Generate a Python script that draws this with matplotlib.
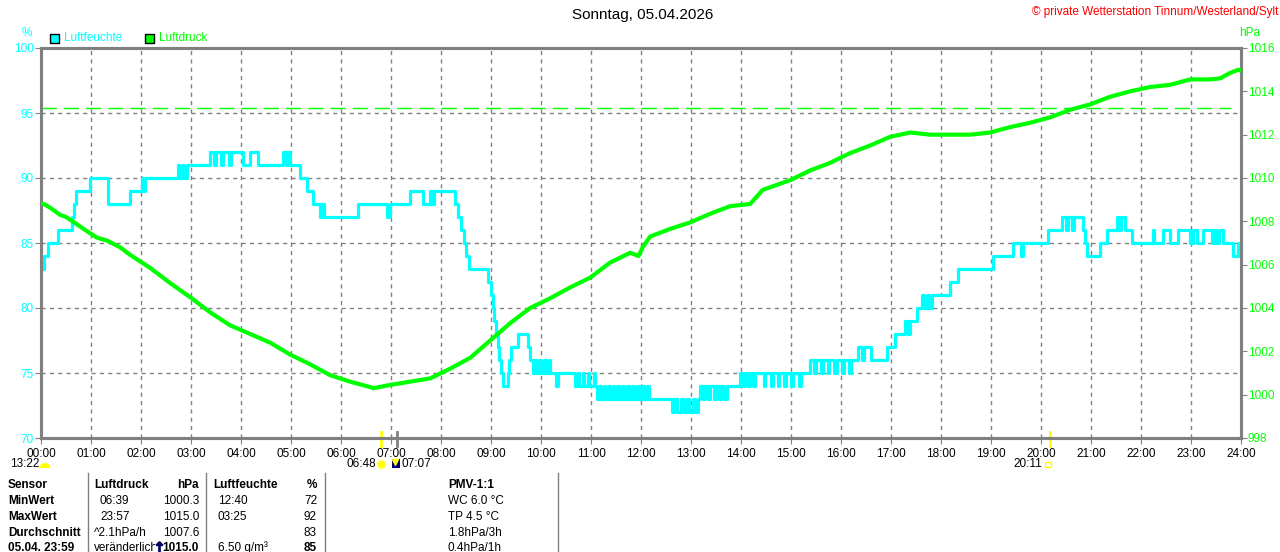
import numpy as np
import matplotlib
matplotlib.use("Agg")
import matplotlib.pyplot as plt
from matplotlib.lines import Line2D
from matplotlib.patches import Rectangle, Polygon
import matplotlib.transforms as mtransforms

plt.rcParams['font.family'] = ['Liberation Sans', 'DejaVu Sans']

# humidity (%), step values: minute of day -> value
hum_min = [0, 4, 8, 20, 37, 40, 42, 59, 80, 107, 121, 123, 125, 164, 166, 169, 172, 175,
           203, 208, 210, 216, 218, 226, 228, 242, 251, 260, 290, 294, 296, 299, 311, 319,
           326, 335, 337, 339, 380, 415, 419, 443, 458, 467, 469, 472, 497, 500, 504, 508,
           510, 514, 536, 540, 542, 544, 546, 548, 550, 552, 554, 560, 562, 564, 572, 584,
           587, 590, 592, 594, 598, 600, 604, 606, 609, 611, 618, 620, 641, 644, 646, 650,
           652, 656, 658, 663, 665, 667, 669, 672, 675, 677, 680, 683, 686, 688, 691, 694,
           697, 700, 703, 706, 709, 712, 715, 718, 721, 724, 727, 730, 757, 760, 763, 768,
           771, 775, 778, 782, 785, 788, 791, 794, 797, 800, 803, 807, 810, 813, 816, 819,
           823, 839, 842, 845, 848, 851, 854, 857, 867, 869, 876, 878, 884, 886, 892, 894,
           900, 902, 910, 912, 923, 928, 930, 936, 938, 944, 946, 952, 955, 961, 963, 970,
           972, 980, 985, 987, 996, 1004, 1015, 1025, 1037, 1040, 1043, 1051, 1057, 1060,
           1063, 1066, 1069, 1091, 1100, 1142, 1166, 1176, 1179, 1208, 1225, 1230, 1232,
           1237, 1239, 1250, 1253, 1255, 1271, 1279, 1291, 1294, 1296, 1301, 1309, 1334,
           1336, 1346, 1355, 1364, 1379, 1382, 1387, 1394, 1405, 1407, 1410, 1413, 1418,
           1430, 1436, 1440]
hum_val = [83, 84, 85, 86, 87, 88, 89, 90, 88, 89, 90, 89, 90, 91, 90, 91, 90, 91,
           92, 91, 92, 91, 92, 91, 92, 91, 92, 91, 92, 91, 92, 91, 90, 89,
           88, 87, 88, 87, 88, 87, 88, 89, 88, 89, 88, 89, 88, 87, 86, 85,
           84, 83, 82, 81, 80, 79, 78, 77, 76, 75, 74, 75, 76, 77, 78, 77,
           76, 75, 76, 75, 76, 75, 76, 75, 76, 75, 74, 75, 74, 75, 74, 75,
           74, 75, 74, 75, 74, 73, 74, 73, 74, 73, 74, 73, 74, 73, 74, 73,
           74, 73, 74, 73, 74, 73, 74, 73, 74, 73, 74, 73, 72, 73, 72, 73,
           72, 73, 72, 73, 72, 73, 74, 73, 74, 73, 74, 73, 74, 73, 74, 73,
           74, 75, 74, 75, 74, 75, 74, 75, 74, 75, 74, 75, 74, 75, 74, 75,
           74, 75, 74, 75, 76, 75, 76, 75, 76, 75, 76, 75, 76, 75, 76, 75,
           76, 77, 76, 77, 76, 76, 77, 78, 79, 78, 79, 80, 81, 80,
           81, 80, 81, 82, 83, 84, 85, 84, 85, 86, 87, 86, 87,
           86, 87, 86, 85, 84, 85, 86, 87, 86, 87, 86, 85, 86,
           85, 86, 85, 86, 85, 86, 85, 86, 85, 86, 85, 86, 85,
           84, 85, 85]

# air pressure (hPa): minute of day -> value
pres_min = [0, 6, 12, 23, 30, 38, 53, 67, 80, 95, 107, 131, 155, 179, 203, 227, 251, 275,
            299, 323, 347, 371, 395, 399, 419, 443, 467, 491, 515, 539, 563, 587, 611, 635,
            659, 683, 707, 717, 722, 731, 755, 779, 803, 827, 851, 866, 899, 923, 947,
            971, 995, 1019, 1043, 1067, 1091, 1115, 1139, 1163, 1187, 1211, 1235, 1259,
            1283, 1307, 1331, 1355, 1379, 1403, 1415, 1427, 1437, 1440]
pres_val = [1008.85, 1008.75, 1008.6, 1008.3, 1008.2, 1008.0, 1007.6, 1007.25, 1007.1,
            1006.8, 1006.45, 1005.85, 1005.15, 1004.5, 1003.8, 1003.2, 1002.8, 1002.4,
            1001.85, 1001.4, 1000.9, 1000.6, 1000.35, 1000.3, 1000.45, 1000.6, 1000.75,
            1001.2, 1001.7, 1002.5, 1003.3, 1004.0, 1004.45, 1004.95, 1005.4, 1006.1,
            1006.55, 1006.4, 1006.8, 1007.3, 1007.65, 1007.95, 1008.35, 1008.7, 1008.8,
            1009.45, 1009.9, 1010.35, 1010.7, 1011.15, 1011.5, 1011.9, 1012.1, 1012.0,
            1012.0, 1012.0, 1012.1, 1012.35, 1012.55, 1012.8, 1013.15, 1013.4, 1013.75,
            1014.0, 1014.2, 1014.3, 1014.55, 1014.55, 1014.6, 1014.85, 1015.0, 1014.95]

hour_labels = ["%02d:00" % h for h in range(25)]
hum_ticks = [70, 75, 80, 85, 90, 95, 100]
pres_ticks = [998, 1000, 1002, 1004, 1006, 1008, 1010, 1012, 1014, 1016]
ref_pressure = 1013.25
sunrise, sunset, moonrise, moonset = 6 + 48 / 60, 20 + 11 / 60, 7 + 7 / 60, 13 + 22 / 60

CYAN = "#00ffff"
GREEN = "#00ff00"
GRAY = "#808080"
YEL = "#ffff00"
FS = 8.5

W, H = 1280, 552
def fx(p): return p / W
def fy(p): return 1 - p / H

fig = plt.figure(figsize=(12.8, 5.52), dpi=100)
ax = fig.add_axes([fx(41), fy(438), 1200 / W, 390 / H])
ax2 = ax.twinx()

hx = np.array(hum_min) / 60.0
px = np.array(pres_min) / 60.0
ax.plot(hx, hum_val, drawstyle="steps-post", color=CYAN, lw=2.3, zorder=3)
ax2.plot(px, pres_val, color=GREEN, lw=3.0, zorder=3)
ax2.plot([0, 23.8], [ref_pressure, ref_pressure], color=GREEN, lw=1, dashes=(11, 5))

ax.set_xlim(0, 24)
ax.set_ylim(70, 100)
ax2.set_ylim(998, 1016)
ax.set_xticks(range(25))
ax.set_xticklabels(hour_labels)
ax.set_yticks(hum_ticks)
ax2.set_yticks(pres_ticks)
ax.grid(True, color=GRAY, ls=(0, (3, 3)), lw=1)

for a in (ax, ax2):
    for s in a.spines.values():
        s.set_color(GRAY)
        s.set_linewidth(2.2)
ax.tick_params(axis="x", colors="black", labelsize=FS, length=4, color=GRAY, pad=3)
ax.tick_params(axis="y", labelcolor=CYAN, labelsize=FS, length=4, color=GRAY, pad=1)
ax2.tick_params(axis="y", labelcolor=GREEN, labelsize=FS, length=4, color=GRAY, pad=1)

# sun / moon marks on the time axis
trans = mtransforms.blended_transform_factory(ax.transData, ax.transAxes)
for t, c in [(sunrise, YEL), (sunset, YEL), (moonrise, GRAY)]:
    ax.plot([t, t], [-0.02, 0.015], color=c, lw=2, transform=trans, clip_on=False, zorder=5)

# header texts
fig.text(0.502, fy(15), "Sonntag, 05.04.2026", ha="center", va="center", fontsize=11)
fig.text(fx(1278), fy(12), "© private Wetterstation Tinnum/Westerland/Sylt", ha="right",
         va="center", fontsize=FS, color="red")
fig.text(fx(27), fy(33), "%", ha="center", va="center", fontsize=FS, color=CYAN)
fig.text(fx(1250), fy(33), "hPa", ha="center", va="center", fontsize=FS, color=GREEN)
for x0, col, lab in [(50, CYAN, "Luftfeuchte"), (145, GREEN, "Luftdruck")]:
    fig.add_artist(Rectangle((fx(x0), fy(43)), 9 / W, 9 / H, transform=fig.transFigure,
                             facecolor=col, edgecolor="black", lw=1))
    fig.text(fx(x0 + 14), fy(38), lab, ha="left", va="center", fontsize=FS, color=col)

# astro labels below axis
fig.text(fx(10), fy(464), "13:22", ha="left", va="center", fontsize=FS)
ang = np.linspace(0, np.pi, 20)
moon = np.column_stack([fx(45 + 5.5 * np.cos(ang)), fy(468 - 5 * np.sin(ang))])
fig.add_artist(Polygon(moon, closed=True, transform=fig.transFigure, color=YEL, lw=0))
fig.text(fx(376), fy(464), "06:48", ha="right", va="center", fontsize=FS)
fig.add_artist(Line2D([fx(381)], [fy(464)], marker="o", markersize=6, color=YEL,
                      markeredgecolor="#ffff80", transform=fig.transFigure))
fig.add_artist(Rectangle((fx(392), fy(468)), 8 / W, 9 / H, transform=fig.transFigure,
                         facecolor="#000080", edgecolor="none"))
fig.add_artist(Line2D([fx(395)], [fy(462)], marker="v", markersize=4, color=YEL,
                      transform=fig.transFigure))
fig.text(fx(402), fy(464), "07:07", ha="left", va="center", fontsize=FS)
fig.text(fx(1042), fy(464), "20:11", ha="right", va="center", fontsize=FS)
fig.add_artist(Rectangle((fx(1045), fy(467)), 6 / W, 5 / H, transform=fig.transFigure,
                         facecolor="none", edgecolor=YEL, lw=1))

# statistics table
row_y = [485, 501, 517, 533, 548]
sensor_col = ["Sensor", "MinWert", "MaxWert", "Durchschnitt", "05.04. 23:59"]
pres_time = ["", "06:39", "23:57", "^2.1hPa/h", "veränderlich"]
pres_num = ["hPa", "1000.3", "1015.0", "1007.6", ""]
hum_time = ["", "12:40", "03:25", "", "6.50 g/m³"]
hum_num = ["%", "72", "92", "83", "85"]
pmv_col = ["PMV-1:1", "WC 6.0 °C", "TP 4.5 °C", "1.8hPa/3h", "0.4hPa/1h"]
trend_val = "1015.0"

for i, y in enumerate(row_y):
    fig.text(fx(8), fy(y), sensor_col[i], ha="left", va="center", fontsize=FS, weight="bold")
    bold = "bold" if i in (0, 4) else "normal"
    if i == 0:
        fig.text(fx(94), fy(y), "Luftdruck", ha="left", va="center", fontsize=FS, weight="bold")
        fig.text(fx(213), fy(y), "Luftfeuchte", ha="left", va="center", fontsize=FS, weight="bold")
    else:
        xt = 94 if i >= 3 else 100
        fig.text(fx(xt), fy(y), pres_time[i], ha="left", va="center", fontsize=FS)
        fig.text(fx(218), fy(y), hum_time[i], ha="left", va="center", fontsize=FS)
    fig.text(fx(199), fy(y), pres_num[i], ha="right", va="center", fontsize=FS, weight=bold)
    fig.text(fx(317), fy(y), hum_num[i], ha="right", va="center", fontsize=FS, weight=bold)
    fig.text(fx(448), fy(y), pmv_col[i], ha="left", va="center", fontsize=FS,
             weight="bold" if i == 0 else "normal")

# trend arrow over the clipped weather word
fig.add_artist(Rectangle((fx(155), fy(556)), 47 / W, 16 / H, transform=fig.transFigure,
                         facecolor="white", edgecolor="none", zorder=4))
fig.add_artist(Line2D([fx(159)], [fy(547)], marker="$\\uparrow$", markersize=8, color="#000060",
                      transform=fig.transFigure, zorder=5))
fig.text(fx(199), fy(548), trend_val, ha="right", va="center", fontsize=FS, weight="bold",
         zorder=6)

for xs in [88, 206, 325, 558]:
    fig.add_artist(Line2D([fx(xs), fx(xs)], [fy(473), fy(552)], color=GRAY, lw=1,
                          transform=fig.transFigure))

fig.savefig("out.png", dpi=100)
